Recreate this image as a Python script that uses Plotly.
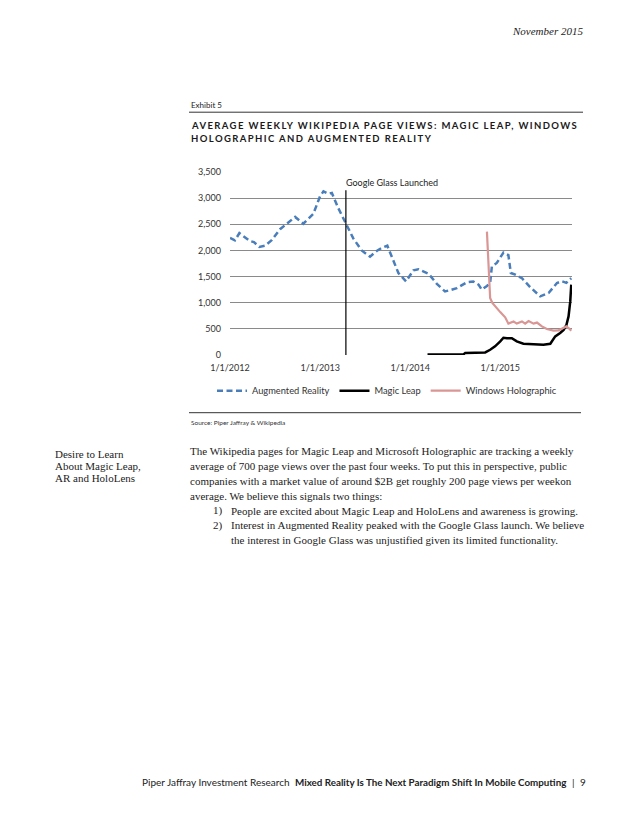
import plotly.graph_objects as go

# ---------------- data ----------------
ar_dates = ["2012-01-01", "2012-01-21", "2012-02-08", "2012-03-02", "2012-03-22", "2012-04-07",
            "2012-04-29", "2012-05-22", "2012-06-18", "2012-07-22", "2012-08-25", "2012-09-21",
            "2012-10-24", "2012-12-04", "2012-12-31", "2013-01-14", "2013-02-03", "2013-02-17",
            "2013-03-15", "2013-04-16", "2013-05-15", "2013-06-18", "2013-07-22", "2013-08-18",
            "2013-09-08", "2013-09-30", "2013-10-18", "2013-11-14", "2013-12-15", "2014-01-14",
            "2014-02-03", "2014-03-16", "2014-04-19", "2014-05-22", "2014-06-12", "2014-07-09",
            "2014-08-18", "2014-09-14", "2014-10-05", "2014-10-18", "2014-11-08", "2014-11-21",
            "2014-11-28", "2014-12-18", "2015-01-14", "2015-02-03", "2015-02-13", "2015-03-03",
            "2015-03-30", "2015-05-02", "2015-06-12", "2015-07-16", "2015-08-19", "2015-09-08",
            "2015-09-26", "2015-10-16"]
ar_values = [2238, 2192, 2330, 2240, 2180, 2160, 2066, 2090, 2195, 2405, 2540, 2640,
             2511, 2700, 3033, 3129, 3085, 3100, 2810, 2500, 2230, 2000, 1880, 1990,
             2050, 2090, 1870, 1568, 1408, 1620, 1640, 1555, 1360, 1216, 1240, 1280,
             1390, 1405, 1345, 1249, 1320, 1377, 1694, 1760, 1960, 1910, 1568, 1536,
             1470, 1300, 1121, 1186, 1377, 1410, 1380, 1470]

ml_dates = ["2014-03-12", "2014-08-05", "2014-08-12", "2014-11-01", "2014-11-21", "2014-12-11",
            "2015-01-01", "2015-01-14", "2015-01-28", "2015-02-17", "2015-03-09", "2015-04-05",
            "2015-05-16", "2015-06-25", "2015-07-23", "2015-08-12", "2015-09-01", "2015-09-15",
            "2015-09-26", "2015-10-05", "2015-10-12", "2015-10-16"]
ml_values = [10, 12, 40, 50, 100, 165, 260, 330, 320, 320, 260, 215,
             205, 195, 215, 356, 420, 480, 570, 738, 1030, 1345]

wh_dates = ["2014-11-08", "2014-11-14", "2014-11-21", "2014-11-30", "2014-12-18", "2015-01-01",
            "2015-01-21", "2015-02-03", "2015-02-24", "2015-03-09", "2015-03-30", "2015-04-12",
            "2015-04-26", "2015-05-16", "2015-05-30", "2015-06-19", "2015-07-09", "2015-08-05",
            "2015-08-25", "2015-09-08", "2015-09-26", "2015-10-05", "2015-10-16"]
wh_values = [2360, 1630, 1090, 995, 890, 820, 720, 600, 640, 600, 643, 600,
             650, 600, 620, 547, 497, 465, 470, 497, 547, 516, 465]

x_tick_vals = ["2012-01-01", "2013-01-01", "2014-01-01", "2015-01-01"]
x_tick_text = ["1/1/2012", "1/1/2013", "1/1/2014", "1/1/2015"]
y_tick_vals = [0, 500, 1000, 1500, 2000, 2500, 3000, 3500]

glass_date = "2013-04-15"
glass_top = 3150
glass_label = "Google Glass Launched"
glass_label_date = "2013-10-19"
glass_label_y = 3295

# ---------------- layout helpers ----------------
# page is rendered with the browser's default 8px body margin, so the
# figure is 8px smaller and all page coordinates are shifted by 8px
OFF = 8
W, H = 638 - OFF, 826 - OFF
PL, PR, PT, PB = 230 - OFF, 572 - OFF, 172.3 - OFF, 355.3 - OFF


def px(x):
    return (x - OFF - PL) / (PR - PL)


def py(y):
    return (PB - (y - OFF)) / (PB - PT)


CHART_FONT = "Lato"
SERIF = "Liberation Serif"

fig = go.Figure()
fig.add_trace(go.Scatter(x=ar_dates, y=ar_values, mode="lines", name="Augmented Reality",
                         line=dict(color="#4a7ebb", width=2.5, dash="6px,3.5px")))
fig.add_trace(go.Scatter(x=ml_dates, y=ml_values, mode="lines", name="Magic Leap",
                         line=dict(color="#000000", width=2.5)))
fig.add_trace(go.Scatter(x=wh_dates, y=wh_values, mode="lines", name="Windows Holographic",
                         line=dict(color="#d99694", width=2.2)))

fig.add_shape(type="line", xref="x", yref="y", x0=glass_date, x1=glass_date, y0=0, y1=glass_top,
              line=dict(color="#000000", width=1.2))

ann = []
ann.append(dict(xref="x", yref="y", x=glass_label_date, y=glass_label_y, text=glass_label,
                showarrow=False, font=dict(family=CHART_FONT, size=9, color="#222")))


def text(x, y, s, size, family=SERIF, color="#222", anchor="left"):
    ann.append(dict(xref="paper", yref="paper", x=px(x), y=py(y), text=s, showarrow=False,
                    xanchor=anchor, yanchor="middle", font=dict(family=family, size=size, color=color)))


text(585, 31, "<i>November 2015</i>", 11, anchor="right")
text(189, 105, "Exhibit 5", 8, family=CHART_FONT)
title_style = '<span style="letter-spacing:1.4px">%s</span>'
text(189, 125.5, "<b>" + title_style % "AVERAGE WEEKLY WIKIPEDIA PAGE VIEWS: MAGIC LEAP, WINDOWS" + "</b>",
     9.5, family=CHART_FONT, color="#1a1a1a")
text(189, 139, "<b>" + title_style % "HOLOGRAPHIC AND AUGMENTED REALITY" + "</b>",
     9.5, family=CHART_FONT, color="#1a1a1a")
text(189, 423, "Source: Piper Jaffray & Wikipedia", 6.5, family=CHART_FONT, color="#333")

text(53, 454, "Desire to Learn", 11)
text(53, 466, "About Magic Leap,", 11)
text(53, 478, "AR and HoloLens", 11)

body = [
    (188, 451, "The Wikipedia pages for Magic Leap and Microsoft Holographic are tracking a weekly"),
    (188, 466, "average of 700 page views over the past four weeks. To put this in perspective, public"),
    (188, 481, "companies with a market value of around $2B get roughly 200 page views per weekon"),
    (188, 496, "average. We believe this signals two things:"),
    (211, 511, "1)"),
    (229, 511, "People are excited about Magic Leap and HoloLens and awareness is growing."),
    (211, 525.5, "2)"),
    (229, 525.5, "Interest in Augmented Reality peaked with the Google Glass launch. We believe"),
    (229, 540, "the interest in Google Glass was unjustified given its limited functionality."),
]
for bx, by, s in body:
    text(bx, by, s, 11)

text(140, 782, "Piper Jaffray Investment Research", 10, family=CHART_FONT, color="#222")
text(293, 782, "<b>Mixed Reality Is The Next Paradigm Shift In Mobile Computing</b>", 9.8,
     family=CHART_FONT, color="#222")
text(570, 782, "|", 10, family=CHART_FONT, color="#222")
text(588, 782, "9", 10, family=CHART_FONT, color="#222", anchor="right")

# rules
fig.add_shape(type="line", xref="paper", yref="paper", x0=px(189), x1=px(583), y0=py(112.5), y1=py(112.5),
              line=dict(color="#333", width=1))
fig.add_shape(type="line", xref="paper", yref="paper", x0=px(189), x1=px(581), y0=py(413), y1=py(413),
              line=dict(color="#333", width=1))

fig.update_layout(
    width=W, height=H,
    margin=dict(l=PL, r=W - PR, t=PT, b=H - PB, pad=0),
    paper_bgcolor="white", plot_bgcolor="white",
    font=dict(family=CHART_FONT, size=9, color="#333"),
    annotations=ann,
    showlegend=True,
    legend=dict(orientation="h", x=px(212), xanchor="left", y=py(391), yanchor="middle",
                font=dict(family=CHART_FONT, size=9.3, color="#333"), bgcolor="rgba(0,0,0,0)",
                itemwidth=30, tracegroupgap=0),
    xaxis=dict(type="date", range=["2012-01-01", "2015-10-19"], tickvals=x_tick_vals, ticktext=x_tick_text,
               showgrid=False, zeroline=False, showline=False, ticks="", ticklabelstandoff=6,
               tickfont=dict(family=CHART_FONT, size=9, color="#333")),
    yaxis=dict(range=[0, 3500], tickvals=y_tick_vals, tickformat=",", showgrid=True,
               gridcolor="#8a8a8a", gridwidth=1, zeroline=False, showline=False, ticks="",
               ticklabelstandoff=8,
               tickfont=dict(family=CHART_FONT, size=9, color="#333")),
)

fig.write_html("out.html")
